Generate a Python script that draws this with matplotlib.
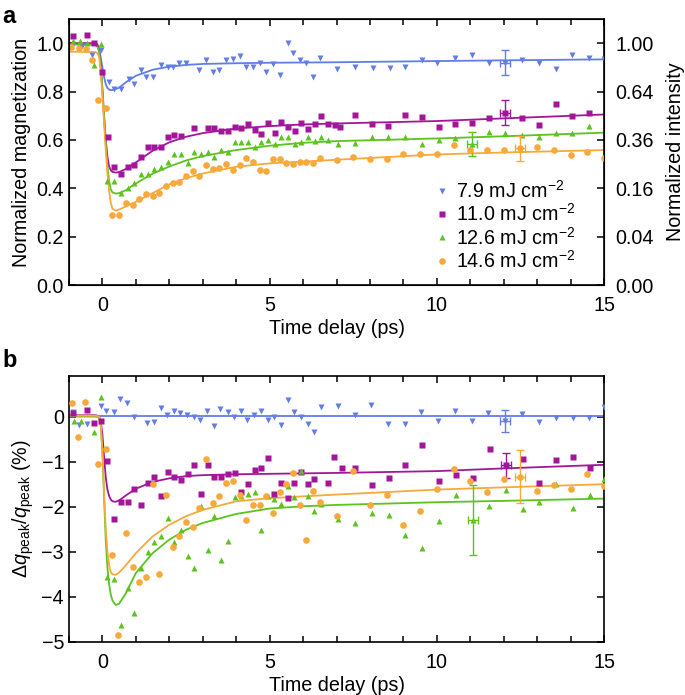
import matplotlib
matplotlib.use("Agg")
import matplotlib.pyplot as plt
from matplotlib.ticker import MultipleLocator, FormatStrFormatter

plt.rcParams['font.family'] = ['Liberation Sans', 'DejaVu Sans']
plt.rcParams['mathtext.fontset'] = 'custom'
plt.rcParams['mathtext.rm'] = 'Liberation Sans'
plt.rcParams['mathtext.it'] = 'Liberation Sans:italic'
plt.rcParams['mathtext.bf'] = 'Liberation Sans:bold'

# colours for the four fluences
c_blue = '#627de6'
c_purple = '#a3169b'
c_green = '#5cc31f'
c_orange = '#f7a93b'

labels = ['7.9 mJ cm$^{-2}$', '11.0 mJ cm$^{-2}$', '12.6 mJ cm$^{-2}$', '14.6 mJ cm$^{-2}$']

# ---------- panel a: normalized magnetization ----------
t_blue_a = [-0.9, -0.6, -0.3, -0.05, 0.2, 0.35, 0.55, 0.8, 0.95, 1.15, 1.3, 1.5, 1.75, 1.95, 2.1, 2.3, 2.5, 2.9,
            3.1, 3.3, 3.5, 3.7, 3.9, 4.1, 4.3, 4.5, 4.7, 4.9, 5.1, 5.3, 5.55, 5.7, 5.9, 6.1, 6.3, 6.5, 7.0, 7.55,
            8.1, 8.6, 9.05, 9.55, 10.0, 10.55, 11.05, 11.55, 12.05, 12.55, 13.05, 13.55, 14.05, 14.55, 15.0]
m_blue = [0.99, 0.99, 0.95, 0.97, 0.84, 0.81, 0.81, 0.85, 0.83, 0.89, 0.86, 0.86, 0.91, 0.90, 0.90, 0.92, 0.92, 0.89,
          0.93, 0.88, 0.89, 0.93, 0.935, 0.945, 0.90, 0.90, 0.92, 0.88, 0.915, 0.87, 1.00, 0.96, 0.93, 0.92, 0.86,
          0.94, 0.895, 0.90, 0.898, 0.896, 0.90, 0.93, 0.92, 0.94, 0.95, 0.92, 0.92, 0.93, 0.92, 0.895, 0.95, 0.94,
          0.935]

t_purple_a = [-0.88, -0.47, -0.25, 0.0, 0.17, 0.35, 0.55, 0.75, 0.95, 1.15, 1.35, 1.55, 1.75, 1.95, 2.15, 2.35, 2.75,
              3.15, 3.35, 3.55, 3.75, 3.95, 4.15, 4.35, 4.55, 4.75, 4.95, 5.15, 5.35, 5.55, 5.75, 5.95, 6.15, 6.35,
              6.55, 6.75, 6.95, 7.1, 7.55, 8.05, 8.55, 9.05, 9.55, 10.05, 10.55, 11.05, 11.55, 12.05, 12.55, 13.05,
              13.55, 14.05, 14.55]
m_purple = [1.03, 1.035, 1.0, 0.88, 0.61, 0.49, 0.46, 0.49, 0.495, 0.53, 0.57, 0.57, 0.57, 0.61, 0.62, 0.615, 0.65,
            0.65, 0.65, 0.635, 0.635, 0.655, 0.65, 0.665, 0.64, 0.625, 0.67, 0.63, 0.675, 0.655, 0.635, 0.67, 0.645,
            0.665, 0.70, 0.665, 0.66, 0.655, 0.705, 0.664, 0.657, 0.705, 0.695, 0.652, 0.664, 0.668, 0.689, 0.712,
            0.689, 0.661, 0.747, 0.70, 0.712]

t_green_a = [-0.88, -0.67, -0.47, -0.25, -0.05, 0.13, 0.35, 0.55, 0.75, 0.95, 1.15, 1.35, 1.55, 1.75, 1.95, 2.15,
             2.35, 2.55, 2.75, 2.95, 3.15, 3.35, 3.55, 3.75, 3.95, 4.15, 4.35, 4.55, 4.75, 4.95, 5.15, 5.35, 5.55,
             5.75, 5.95, 6.15, 6.35, 6.55, 6.75, 7.05, 7.55, 8.05, 8.55, 9.05, 9.55, 10.05, 10.55, 11.05, 11.55,
             12.05, 12.55, 13.05, 13.55, 14.05, 14.55]
m_green = [1.01, 1.01, 1.0, 0.91, 0.995, 0.43, 0.43, 0.38, 0.40, 0.42, 0.46, 0.46, 0.48, 0.49, 0.51, 0.54, 0.54,
           0.505, 0.55, 0.54, 0.55, 0.53, 0.56, 0.55, 0.59, 0.59, 0.59, 0.57, 0.59, 0.60, 0.585, 0.61, 0.61, 0.585,
           0.59, 0.61, 0.595, 0.61, 0.60, 0.585, 0.588, 0.612, 0.612, 0.612, 0.585, 0.599, 0.608, 0.583, 0.633,
           0.63, 0.622, 0.612, 0.63, 0.627, 0.656]

t_orange_a = [-0.95, -0.7, -0.48, -0.32, -0.13, 0.1, 0.3, 0.5, 0.7, 0.9, 1.1, 1.3, 1.5, 1.7, 1.9, 2.1, 2.3, 2.5,
              2.7, 2.9, 3.1, 3.3, 3.5, 3.7, 3.9, 4.1, 4.3, 4.5, 4.7, 4.9, 5.1, 5.3, 5.5, 5.7, 5.9, 6.1, 6.3, 6.5,
              7.0, 7.5, 8.0, 8.5, 9.0, 9.5, 10.0, 10.5, 11.0, 11.5, 12.0, 12.5, 13.0, 13.5, 14.0, 14.5, 15.0]
m_orange = [0.985, 0.98, 0.975, 0.93, 0.765, 0.73, 0.29, 0.29, 0.34, 0.33, 0.355, 0.375, 0.37, 0.38, 0.41, 0.42,
            0.425, 0.45, 0.47, 0.45, 0.495, 0.48, 0.485, 0.50, 0.475, 0.495, 0.525, 0.51, 0.475, 0.47, 0.52, 0.52,
            0.505, 0.50, 0.51, 0.51, 0.505, 0.525, 0.515, 0.53, 0.52, 0.52, 0.54, 0.541, 0.541, 0.578, 0.56, 0.558,
            0.558, 0.565, 0.572, 0.558, 0.537, 0.551, 0.526]

# fitted curves
t_fit = [-1, -0.2, -0.15, -0.1, -0.05, 0, 0.05, 0.1, 0.15, 0.2, 0.25, 0.3, 0.4, 0.5, 0.7, 1, 1.5, 2, 2.5, 3, 4, 5,
         6, 7, 10, 12, 15]
fit_blue_a = [0.995, 0.995, 0.99, 0.975, 0.94, 0.9, 0.86, 0.83, 0.815, 0.808, 0.806, 0.806, 0.81, 0.816, 0.838,
              0.865, 0.89, 0.903, 0.91, 0.914, 0.917, 0.919, 0.92, 0.921, 0.926, 0.929, 0.933]
fit_purple_a = [1.0, 1.0, 0.995, 0.975, 0.91, 0.81, 0.7, 0.6, 0.53, 0.49, 0.475, 0.468, 0.465, 0.467, 0.48, 0.507,
                0.555, 0.59, 0.613, 0.628, 0.647, 0.657, 0.664, 0.668, 0.678, 0.689, 0.705]
fit_green_a = [0.995, 0.993, 0.985, 0.965, 0.9, 0.8, 0.69, 0.58, 0.49, 0.43, 0.395, 0.383, 0.378, 0.38, 0.392, 0.42,
               0.46, 0.49, 0.515, 0.533, 0.558, 0.576, 0.588, 0.595, 0.606, 0.615, 0.63]
fit_orange_a = [0.965, 0.963, 0.958, 0.945, 0.88, 0.78, 0.67, 0.56, 0.46, 0.39, 0.34, 0.315, 0.308, 0.312, 0.325,
                0.344, 0.38, 0.416, 0.442, 0.461, 0.489, 0.503, 0.51, 0.518, 0.54, 0.548, 0.558]

# representative error bars (blue, purple, green, orange)
err_t_a = [12.05, 12.05, 11.05, 12.5]
err_m_a = [0.92, 0.712, 0.583, 0.565]
err_dm_a = [0.05, 0.052, 0.048, 0.052]

mag_ticks = [0.0, 0.2, 0.4, 0.6, 0.8, 1.0]
intensity_labels = ['0.00', '0.04', '0.16', '0.36', '0.64', '1.00']

# ---------- panel b: peak position change ----------
t_blue_b = [-0.88, -0.7, -0.47, -0.05, 0.12, 0.35, 0.52, 0.73, 0.93, 1.33, 1.53, 1.75, 1.93, 2.13, 2.33, 2.53,
            2.73, 2.93, 3.13, 3.33, 3.53, 3.75, 3.94, 4.13, 4.33, 4.53, 4.75, 4.94, 5.12, 5.34, 5.54, 5.74, 5.94,
            6.14, 6.34, 6.54, 7.04, 7.54, 8.04, 8.54, 9.04, 9.54, 10.04, 10.54, 11.04, 11.54, 12.05, 12.54, 13.06,
            13.56, 14.06, 14.55, 15.0]
q_blue = [0.10, -0.18, -0.16, 0.23, 0.12, 0.10, 0.38, 0.30, -0.01, -0.14, -0.12, 0.18, 0.04, 0.13, 0.08, 0.04,
          0.0, -0.07, 0.13, -0.21, 0.16, 0.10, -0.01, 0.13, -0.07, 0.03, 0.13, -0.07, -0.01, -0.18, 0.36, 0.10,
          -0.01, -0.16, -0.35, 0.21, 0.23, 0.03, 0.25, -0.16, -0.16, 0.10, -0.10, 0.12, -0.10, 0.08, -0.10, 0.06,
          -0.13, -0.04, -0.04, -0.04, 0.21]

t_purple_b = [-0.88, -0.47, -0.25, -0.05, 0.15, 0.35, 0.55, 0.75, 0.95, 1.15, 1.35, 1.55, 1.75, 1.95, 2.15, 2.35,
              2.55, 2.75, 2.95, 3.15, 3.35, 3.55, 3.75, 3.95, 4.15, 4.35, 4.55, 4.75, 4.94, 5.14, 5.34, 5.54, 5.74,
              5.94, 6.14, 6.34, 6.74, 6.94, 7.17, 7.54, 8.06, 8.56, 9.05, 9.55, 10.06, 10.56, 11.07, 11.58, 12.07,
              12.57, 13.07, 13.57, 14.07, 14.57]
q_purple = [0.08, 0.14, -0.14, -0.09, -0.98, -2.27, -1.90, -1.90, -1.61, -1.97, -1.47, -1.33, -1.76, -1.23, -1.35,
            -1.40, -1.27, -1.08, -1.72, -1.08, -1.33, -1.33, -1.27, -1.25, -1.68, -1.50, -1.18, -1.13, -0.92, -1.72,
            -1.47, -1.81, -1.47, -1.23, -1.50, -1.39, -1.47, -0.90, -1.14, -1.14, -1.51, -1.36, -1.07, -0.62, -1.44,
            -1.29, -1.36, -0.72, -1.08, -0.94, -1.47, -0.97, -0.90, -1.14]

t_green_b = [-0.85, -0.65, -0.25, -0.05, 0.13, 0.35, 0.55, 0.75, 0.95, 1.15, 1.35, 1.55, 1.75, 1.95, 2.15, 2.35,
             2.55, 2.75, 2.95, 3.15, 3.35, 3.55, 3.75, 3.95, 4.15, 4.35, 4.55, 4.75, 4.94, 5.14, 5.34, 5.54, 5.74,
             5.94, 6.14, 6.34, 6.54, 7.05, 7.55, 8.05, 8.56, 9.05, 9.55, 10.06, 10.57, 11.07, 11.57, 12.07, 12.57,
             13.07, 13.57, 14.07, 14.57, 15.0]
q_green = [-0.10, -0.10, -0.35, 0.44, -3.55, -3.61, -4.62, -3.81, -4.35, -3.35, -3.01, -2.79, -2.66, -2.25, -2.79,
           -2.51, -3.09, -3.35, -1.99, -2.96, -2.21, -3.18, -2.76, -1.79, -1.77, -1.71, -1.68, -2.51, -1.76, -1.83,
           -1.93, -1.53, -1.79, -1.21, -1.77, -2.10, -1.94, -2.27, -2.36, -2.14, -2.18, -2.62, -2.92, -2.31, -1.75,
           -2.29, -1.99, -1.62, -2.04, -1.90, -1.49, -2.03, -1.75, -1.39]

t_orange_b = [-0.92, -0.72, -0.52, -0.12, 0.1, 0.3, 0.48, 0.7, 0.9, 1.1, 1.3, 1.5, 1.7, 1.9, 2.1, 2.3, 2.5, 2.7,
              2.9, 3.1, 3.3, 3.5, 3.7, 3.9, 4.1, 4.3, 4.5, 4.7, 4.9, 5.1, 5.3, 5.5, 5.7, 5.9, 6.1, 6.3, 6.5, 7.0,
              7.5, 8.0, 8.5, 9.0, 9.5, 10.0, 10.5, 11.0, 11.5, 12.0, 12.5, 13.0, 13.5, 14.0, 14.5, 15.0]
q_orange = [0.30, -0.45, 0.32, -1.05, -0.72, -3.08, -4.84, -2.59, -3.33, -3.66, -3.55, -1.49, -3.50, -1.73, -2.90,
            -2.66, -2.33, -2.44, -2.03, -0.94, -1.92, -1.76, -1.47, -1.44, -1.75, -2.29, -1.97, -1.97, -1.77, -2.13,
            -1.67, -1.49, -1.25, -1.97, -2.73, -1.64, -1.90, -2.21, -1.21, -1.97, -1.73, -2.40, -2.09, -1.61, -1.16,
            -1.42, -1.67, -1.39, -1.33, -1.66, -1.51, -1.61, -1.27, -1.55]

t_fit_blue_b = [-1, 15]
fit_blue_b = [0.02, 0.02]
fit_purple_b = [0.03, 0.03, 0.02, 0.0, -0.12, -0.4, -0.9, -1.35, -1.62, -1.76, -1.84, -1.88, -1.89, -1.86, -1.75,
                -1.6, -1.45, -1.37, -1.32, -1.3, -1.28, -1.27, -1.26, -1.25, -1.21, -1.15, -1.07]
fit_green_b = [0.0, 0.0, -0.01, -0.02, -0.2, -0.8, -1.8, -2.75, -3.35, -3.72, -3.95, -4.08, -4.18, -4.15, -3.92,
               -3.47, -3.03, -2.73, -2.51, -2.36, -2.16, -2.04, -1.99, -1.96, -1.90, -1.87, -1.82]
fit_orange_b = [0.02, 0.02, 0.01, 0.0, -0.18, -0.75, -1.7, -2.5, -3.0, -3.3, -3.45, -3.5, -3.51, -3.46, -3.3,
                -3.03, -2.66, -2.40, -2.21, -2.07, -1.88, -1.81, -1.77, -1.73, -1.62, -1.57, -1.5]

err_t_b = [12.05, 12.07, 11.07, 12.5]
err_q_b = [-0.10, -1.08, -2.29, -1.33]
err_dq_b = [0.25, 0.28, 0.78, 0.58]
err_dt = 0.15

colors = [c_blue, c_purple, c_green, c_orange]
markers = ['v', 's', '^', 'o']
msizes = [5.0, 4.3, 5.0, 4.8]
FS = 14.2


def style_axis(ax):
    ax.set_xlim(-1, 15)
    ax.xaxis.set_major_locator(MultipleLocator(5))
    ax.xaxis.set_minor_locator(MultipleLocator(1))
    ax.tick_params(which='both', direction='in', top=True, width=1.1, labelsize=FS)
    ax.tick_params(which='major', length=5)
    ax.tick_params(which='minor', length=4)
    ax.tick_params(axis='x', pad=8)
    for s in ax.spines.values():
        s.set_linewidth(1.2)
    ax.set_xlabel('Time delay (ps)', fontsize=FS, labelpad=3)


fig = plt.figure(figsize=(6.85, 6.95), dpi=100)

# panel a
ax1 = fig.add_axes([0.1007, 0.5899, 0.7811, 0.3828])
data_a = [(t_blue_a, m_blue, fit_blue_a), (t_purple_a, m_purple, fit_purple_a),
          (t_green_a, m_green, fit_green_a), (t_orange_a, m_orange, fit_orange_a)]
for i, (t, m, f) in enumerate(data_a):
    ax1.plot(t_fit, f, color=colors[i], lw=1.3, zorder=2)
    ax1.plot(t, m, linestyle='none', marker=markers[i], ms=msizes[i],
             color=colors[i], mec='none', label=labels[i], zorder=3)
    ax1.errorbar(err_t_a[i], err_m_a[i], yerr=err_dm_a[i], xerr=err_dt, fmt='none', ecolor=colors[i],
                 elinewidth=1.0, capsize=3, capthick=1.0, zorder=3)
style_axis(ax1)
ax1.set_ylim(0, 1.1)
ax1.set_yticks(mag_ticks)
ax1.yaxis.set_major_formatter(FormatStrFormatter('%.1f'))
ax1.set_ylabel('Normalized magnetization', fontsize=FS, labelpad=4)

ax1r = ax1.twinx()
ax1r.set_ylim(0, 1.1)
ax1r.set_yticks(mag_ticks)
ax1r.set_yticklabels(intensity_labels)
ax1r.tick_params(direction='in', length=5, width=1.1, labelsize=FS, pad=8)
ax1r.set_ylabel('Normalized intensity', fontsize=FS, labelpad=9)

leg = ax1.legend(loc='upper left', bbox_to_anchor=(0.683, 0.395), frameon=False, fontsize=FS,
                 handlelength=0.8, handletextpad=0.3, labelspacing=0.07, borderpad=0, borderaxespad=0)

# panel b
ax2 = fig.add_axes([0.1007, 0.0763, 0.7811, 0.3827])
data_b = [(t_blue_b, q_blue, t_fit_blue_b, fit_blue_b), (t_purple_b, q_purple, t_fit, fit_purple_b),
          (t_green_b, q_green, t_fit, fit_green_b), (t_orange_b, q_orange, t_fit, fit_orange_b)]
for i, (t, q, tf, f) in enumerate(data_b):
    ax2.plot(tf, f, color=colors[i], lw=1.3, zorder=2)
    ax2.plot(t, q, linestyle='none', marker=markers[i], ms=msizes[i],
             color=colors[i], mec='none', zorder=3)
    ax2.errorbar(err_t_b[i], err_q_b[i], yerr=err_dq_b[i], xerr=err_dt, fmt='none', ecolor=colors[i],
                 elinewidth=1.0, capsize=3, capthick=1.0, zorder=3)
style_axis(ax2)
ax2.set_ylim(-5, 0.9)
ax2.set_yticks([0, -1, -2, -3, -4, -5])
ax2.tick_params(axis='y', right=True)
ax2.set_ylabel(r'$\Delta q_{\rm peak}/q_{\rm peak}$ (%)', fontsize=FS, labelpad=4)

fig.text(0.004, 0.976, 'a', fontsize=17, fontweight='bold', va='center', ha='left')
fig.text(0.004, 0.482, 'b', fontsize=17, fontweight='bold', va='center', ha='left')

fig.savefig('out.png', dpi=100)
